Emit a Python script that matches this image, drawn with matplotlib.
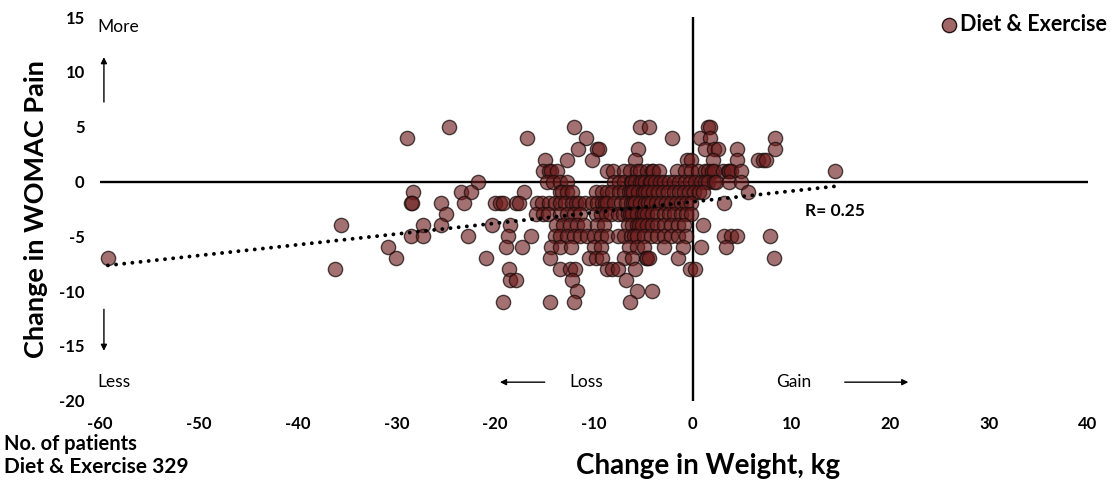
import numpy as np
import matplotlib
matplotlib.use("Agg")
import matplotlib.pyplot as plt

# ---- data (weight change, kg) per WOMAC pain change level ----
w_p5 = [-24.7, -12.0, -5.3, -4.4, 1.5, 1.7]
w_p4 = [-28.9, -16.8, -10.8, -2.1, 0.7, 1.7, 8.3]
w_p3 = [-11.6, -9.7, -9.5, -5.5, 1.2, 2.2, 2.6, 4.5, 8.3]
w_p2 = [-15.0, -12.7, -10.2, -5.8, -0.6, -0.2, 2.0, 4.5, 6.6, 7.1, 7.4]
w_p1 = [-15.2, -14.6, -14.3, -13.7, -8.7, -8.1, -7.0, -6.4, -5.6, -5.3, -4.6, -4.1,
        -4.0, -3.4, -1.6, -0.8, -0.2, 0.5, 1.2, 1.5, 1.9, 2.2, 3.1, 3.6, 3.7, 3.9, 4.9, 14.4]
w_0 = [-21.7, -14.8, -14.1, -13.4, -12.7, -8.0, -7.5, -7.0, -6.3, -6.1, -5.8, -5.3, -5.1,
       -4.8, -4.3, -4.2, -3.8, -3.3, -2.9, -2.4, -1.9, -1.4, -0.8, -0.3, 0.2, 0.8, 1.2,
       1.5, 2.2, 2.4, 3.7, 4.9]
w_m1 = [-28.3, -23.5, -22.4, -17.1, -13.4, -13.2, -12.7, -12.2, -9.8, -9.2, -8.7, -8.2,
        -7.5, -7.0, -6.5, -6.3, -6.0, -5.5, -5.0, -4.8, -4.5, -4.0, -3.5, -3.0, -2.5,
        -1.9, -1.4, -0.9, -0.4, 0.1, 0.6, 1.0, 5.6]
w_m2 = [-28.5, -28.4, -25.5, -23.2, -20.0, -19.5, -19.2, -17.9, -17.6, -15.8, -15.3,
        -14.6, -13.9, -13.4, -12.9, -12.2, -11.8, -11.5, -10.9, -10.2, -9.7, -9.2, -8.9,
        -8.7, -8.0, -7.3, -6.8, -6.3, -6.0, -5.8, -5.3, -4.8, -4.5, -4.2, -3.7, -3.2,
        -2.7, -2.2, -1.7, -1.2, -0.7, -0.2, 3.2]
w_m3 = [-25.0, -15.9, -15.2, -14.7, -13.4, -12.7, -12.0, -11.4, -9.8, -9.3, -8.8, -8.3,
        -7.6, -7.1, -6.6, -6.4, -6.1, -5.6, -5.1, -4.9, -4.6, -4.1, -3.6, -2.9, -2.4,
        -1.9, -1.2, -0.7, -0.2]
w_m4 = [-35.6, -27.3, -25.5, -20.3, -18.5, -13.8, -13.1, -12.4, -11.7, -11.0, -9.7, -9.0,
        -6.6, -6.1, -5.6, -5.4, -5.1, -4.6, -4.1, -3.6, -2.9, -2.2, -1.5, -0.9, 1.0]
w_m5 = [-28.5, -27.3, -22.7, -18.7, -16.4, -13.9, -13.4, -12.7, -12.0, -11.4, -10.7,
        -10.0, -9.3, -8.7, -7.6, -7.0, -6.3, -5.9, -5.6, -4.9, -4.2, -3.6, -2.9, -2.2,
        -1.5, -0.7, 3.2, 3.9, 4.5, 7.8]
w_m6 = [-30.8, -18.9, -17.3, -14.3, -13.4, -12.3, -10.0, -9.3, -6.5, -5.6, -4.9, -2.9,
        -1.0, 0.8, 3.4]
w_m7 = [-59.2, -30.0, -20.9, -14.4, -10.5, -9.8, -9.2, -7.0, -6.1, -4.75, -4.6, -4.4,
        -1.5, 8.2]
w_m8 = [-36.2, -18.6, -13.4, -12.4, -11.9, -8.7, -8.2, -7.6, -5.8, -0.3, 0.2]
w_m9 = [-18.5, -17.9, -12.2, -6.8]
w_m10 = [-11.7, -5.6, -4.1]
w_m11 = [-19.2, -14.4, -12.0, -6.4]

pain_levels = [5, 4, 3, 2, 1, 0, -1, -2, -3, -4, -5, -6, -7, -8, -9, -10, -11]
weight_rows = [w_p5, w_p4, w_p3, w_p2, w_p1, w_0, w_m1, w_m2, w_m3, w_m4, w_m5,
               w_m6, w_m7, w_m8, w_m9, w_m10, w_m11]

# trend line
trend_x = [-59.2, 14.4]
trend_slope = 0.098
trend_intercept = -1.85

x_ticks = [-60, -50, -40, -30, -20, -10, 0, 10, 20, 30, 40]
y_ticks = [15, 10, 5, 0, -5, -10, -15, -20]

weight = np.concatenate([np.array(r, float) for r in weight_rows])
pain = np.concatenate([np.full(len(r), p, float) for r, p in zip(weight_rows, pain_levels)])

plt.rcParams['font.family'] = ['Lato', 'DejaVu Sans']
plt.rcParams['axes.unicode_minus'] = False

fig = plt.figure(figsize=(11.17, 4.87), dpi=100)
ax = fig.add_axes([0.0895, 0.177, 0.8845, 0.788])
ax.set_xlim(-60, 40)
ax.set_ylim(-20, 15)
for s in ax.spines.values():
    s.set_visible(False)

ax.axhline(0, color='black', lw=1.7, zorder=1)
ax.axvline(0, color='black', lw=1.7, zorder=1)

ax.scatter(weight, pain, s=105, facecolor=(0.42, 0.10, 0.10, 0.62),
           edgecolor=(0.1, 0.05, 0.05, 0.75), linewidth=1.0, zorder=3)

tx = np.array(trend_x)
ax.plot(tx, trend_slope * tx + trend_intercept, color='black', lw=2.8,
        linestyle=(0, (0.01, 2.1)), dash_capstyle='round', zorder=4)

ax.set_xticks(x_ticks)
ax.set_yticks(y_ticks)
ax.tick_params(length=0, labelsize=12)
ax.tick_params(axis='x', pad=11)
ax.tick_params(axis='y', pad=11)
for lab in ax.get_xticklabels() + ax.get_yticklabels():
    lab.set_fontweight('bold')

ax.set_ylabel('Change in WOMAC Pain', fontsize=19.5, fontweight='bold', labelpad=8)
fig.text(0.634, 0.043, 'Change in Weight, kg', fontsize=20, fontweight='bold',
         ha='center', va='center')
fig.text(0.004, 0.089, 'No. of patients', fontsize=14.5, fontweight='bold',
         ha='left', va='center')
fig.text(0.004, 0.041, 'Diet & Exercise 329', fontsize=15, fontweight='bold',
         ha='left', va='center')

# direction annotations
ax.text(-60.3, 14.1, 'More', fontsize=12.5, ha='left', va='center')
ax.annotate('', xy=(-59.6, 11.6), xytext=(-59.6, 7.0),
            arrowprops=dict(arrowstyle='-|>', color='black', lw=1, mutation_scale=9))
ax.annotate('', xy=(-59.6, -15.7), xytext=(-59.6, -11.4),
            arrowprops=dict(arrowstyle='-|>', color='black', lw=1, mutation_scale=9))
ax.text(-60.3, -18.3, 'Less', fontsize=12.5, ha='left', va='center')
ax.text(-10.8, -18.3, 'Loss', fontsize=12.5, ha='center', va='center')
ax.annotate('', xy=(-19.8, -18.3), xytext=(-14.7, -18.3),
            arrowprops=dict(arrowstyle='-|>', color='black', lw=1, mutation_scale=9))
ax.text(10.2, -18.3, 'Gain', fontsize=12.5, ha='center', va='center')
ax.annotate('', xy=(22.1, -18.3), xytext=(15.1, -18.3),
            arrowprops=dict(arrowstyle='-|>', color='black', lw=1, mutation_scale=9))

ax.text(11.4, -2.7, 'R= 0.25', fontsize=12.5, fontweight='bold', ha='left', va='center')

# legend
ax.scatter([25.9], [14.3], s=105, facecolor=(0.63, 0.40, 0.40),
           edgecolor=(0.15, 0.08, 0.08), linewidth=1.0, zorder=5, clip_on=False)
ax.text(27.0, 14.3, 'Diet & Exercise', fontsize=15.5, fontweight='bold',
        ha='left', va='center')

fig.savefig('out.png', dpi=100)
